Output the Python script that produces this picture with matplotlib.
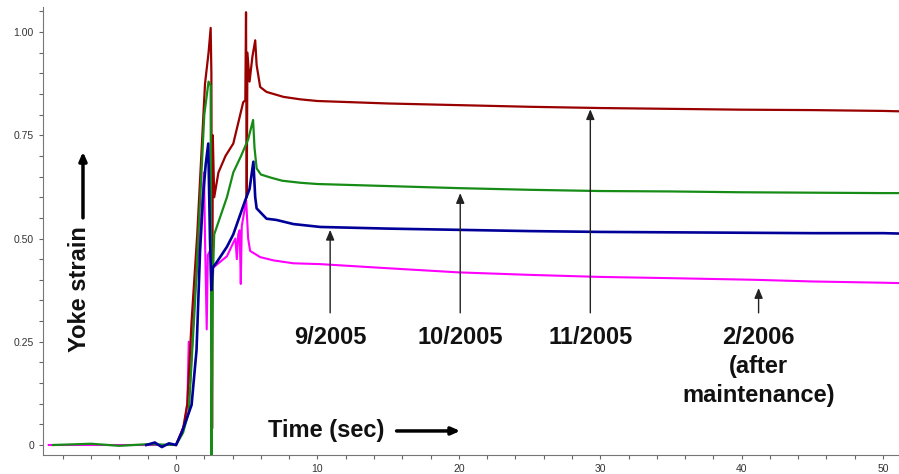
import matplotlib
matplotlib.use("Agg")
import matplotlib.pyplot as plt
from matplotlib.ticker import MultipleLocator

plt.rcParams['font.family'] = ['Liberation Sans', 'DejaVu Sans']

# Traces (time in s, strain)
red_t = [0, 0.5, 0.8, 1.1, 1.5, 2.05, 2.3, 2.45, 2.5, 2.55, 2.6, 2.7, 3.0, 3.5, 4.05,
         4.75, 4.9, 4.95, 5.0, 5.05, 5.2, 5.4, 5.6, 5.7, 5.95, 6.4, 7.6, 8.8, 10, 15,
         20, 25, 30, 35, 40, 45, 50, 51.2]
red_v = [0, 0.04, 0.1, 0.3, 0.51, 0.875, 0.95, 1.01, 0.9, 0.04, 0.75, 0.6, 0.66, 0.70, 0.73,
         0.83, 0.835, 1.048, 0.6, 0.95, 0.88, 0.94, 0.98, 0.92, 0.867, 0.855, 0.843, 0.837, 0.833, 0.827,
         0.823, 0.819, 0.816, 0.814, 0.812, 0.811, 0.809, 0.808]

green_t = [-8.7, -6, -4, -2, 0, 0.5, 0.9, 1.1, 1.35, 1.7, 2.0, 2.3, 2.45, 2.5, 2.6, 2.7,
           3.0, 3.6, 4.05, 4.6, 5.1, 5.45, 5.55, 5.7, 6.0, 6.65, 7.5, 8.8, 10, 15, 20,
           25, 30, 35, 40, 45, 50, 51.2]
green_v = [0, 0.003, -0.002, 0.002, 0, 0.03, 0.08, 0.2, 0.35, 0.59, 0.8, 0.88, 0.87, -0.08, 0.4, 0.51,
           0.54, 0.6, 0.66, 0.70, 0.74, 0.787, 0.72, 0.67, 0.655, 0.648, 0.64, 0.635, 0.632, 0.627, 0.622,
           0.618, 0.615, 0.614, 0.612, 0.611, 0.610, 0.610]

blue_t = [-2.1, -1.5, -1, -0.5, 0, 0.4, 0.8, 1.1, 1.45, 1.7, 1.93, 2.1, 2.28, 2.4, 2.5,
          2.6, 2.83, 3.6, 4.05, 4.9, 5.2, 5.47, 5.6, 5.7, 6.4, 7.1, 8.3, 10.2, 15, 20,
          25, 30, 35, 40, 45, 50, 51.2]
blue_v = [0, 0.006, -0.005, 0.004, 0, 0.03, 0.068, 0.097, 0.23, 0.47, 0.61, 0.68, 0.73, 0.5, 0.375,
          0.43, 0.44, 0.48, 0.51, 0.593, 0.62, 0.686, 0.6, 0.573, 0.548, 0.545, 0.535, 0.528, 0.524, 0.521,
          0.518, 0.516, 0.515, 0.514, 0.513, 0.513, 0.512]

pink_t = [-9.0, -6, 0, 0.6, 0.8, 0.9, 1.0, 1.3, 1.7, 1.98, 2.05, 2.17, 2.25, 2.4, 2.65,
          3.0, 3.6, 4.05, 4.2, 4.3, 4.4, 4.5, 4.58, 4.65, 4.8, 4.96, 5.1, 5.24, 5.95, 6.9,
          8.3, 10.2, 15, 20, 25, 30, 35, 41, 45, 50, 51.2]
pink_v = [0, 0, 0, 0.05, 0.1, 0.25, 0.15, 0.35, 0.51, 0.66, 0.5, 0.28, 0.46, 0.47, 0.43,
          0.44, 0.457, 0.49, 0.5, 0.45, 0.51, 0.52, 0.39, 0.53, 0.56, 0.593, 0.5, 0.47, 0.455, 0.447,
          0.44, 0.438, 0.428, 0.418, 0.412, 0.407, 0.404, 0.40, 0.396, 0.393, 0.392]

# Date annotations: label, arrow x, arrow tip
dates = ['9/2005', '10/2005', '11/2005', '2/2006\n(after\nmaintenance)']
date_x = [10.9, 20.1, 29.3, 41.2]
date_tip = [0.521, 0.61, 0.813, 0.38]

fig = plt.figure(figsize=(8.99, 4.74), dpi=100)
ax = fig.add_axes([0.0478, 0.0401, 0.9522, 0.945])

ax.plot(pink_t, pink_v, color='#ff00ff', lw=1.5)
ax.plot(red_t, red_v, color='#990000', lw=1.6)
ax.plot(green_t, green_v, color='#168c16', lw=1.6)
ax.plot(blue_t, blue_v, color='#000099', lw=1.9)

ax.set_xlim(-9.41, 51.13)
ax.set_ylim(-0.0242, 1.0605)

ax.set_yticks([0, 0.25, 0.5, 0.75, 1.0])
ax.set_yticklabels(['0', '0.25', '0.50', '0.75', '1.00'])
ax.set_xticks([0, 10, 20, 30, 40, 50])
ax.xaxis.set_minor_locator(MultipleLocator(2))
ax.yaxis.set_minor_locator(MultipleLocator(0.05))
ax.tick_params(which='both', colors='#666666', labelcolor='#333333', labelsize=7.5,
               length=3, width=0.8)

for s in ['top', 'right']:
    ax.spines[s].set_visible(False)
for s in ['left', 'bottom']:
    ax.spines[s].set_color('#777777')

font = dict(fontsize=17, fontweight='bold', color='#111111')

for lab, x, tip in zip(dates, date_x, date_tip):
    ax.annotate('', xy=(x, tip), xytext=(x, 0.32),
                arrowprops=dict(arrowstyle='-|>,head_length=0.6,head_width=0.25',
                                lw=1.0, color='#222222', shrinkA=0, shrinkB=0))
    ax.text(x, 0.289, lab, ha='center', va='top', linespacing=1.35, **font)

# axis captions with arrows
ax.text(6.5, 0.019, 'Time (sec)', ha='left', va='baseline', **font)
ax.annotate('', xy=(20.1, 0.034), xytext=(15.6, 0.034),
            arrowprops=dict(arrowstyle='-|>,head_length=0.5,head_width=0.22',
                            lw=2.5, color='black', shrinkA=0, shrinkB=0))
ax.text(-6.86, 0.377, 'Yoke strain', rotation=90, ha='center', va='center', **font)
ax.annotate('', xy=(-6.58, 0.71), xytext=(-6.58, 0.55),
            arrowprops=dict(arrowstyle='-|>,head_length=0.5,head_width=0.22',
                            lw=2.5, color='black', shrinkA=0, shrinkB=0))

fig.savefig('out.png', dpi=100)
